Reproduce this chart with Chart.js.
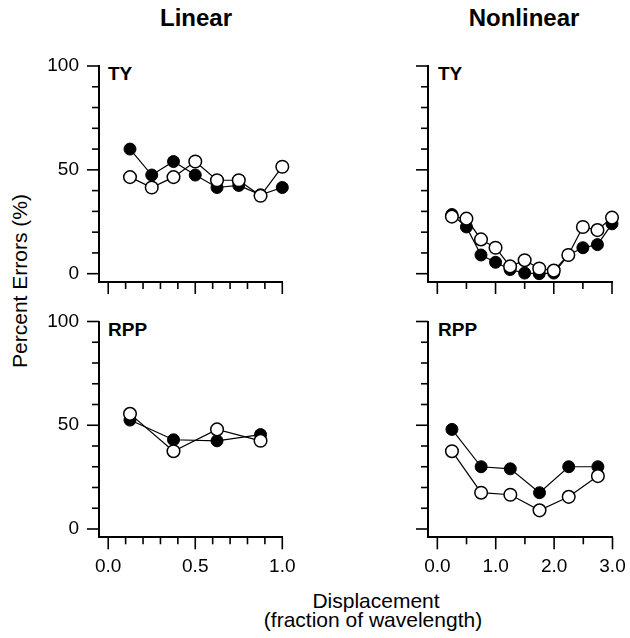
<!DOCTYPE html>
<html>
<head>
<meta charset="utf-8">
<script src="https://cdn.jsdelivr.net/npm/chart.js@4/dist/chart.umd.min.js"></script>
<style>
  body { margin: 0; background: #fff; overflow: hidden; }
  #wrap { position: relative; width: 630px; height: 638px; font-family: "Liberation Sans", Arial, Helvetica, sans-serif; color: #000; }
  canvas { position: absolute; }
  .txt { position: absolute; white-space: nowrap; line-height: 1; }
  .ttl { font-weight: bold; font-size: 24px; transform: translate(-50%, -50%); }
  .lab { font-weight: bold; font-size: 19px; transform: translate(0, -50%); }
  .ax { font-size: 21px; transform: translate(-50%, -50%); }
</style>
</head>
<body>
<div id="wrap">
  <div class="txt ttl" style="left:196px; top:18px;">Linear</div>
  <div class="txt ttl" style="left:524px; top:18px;">Nonlinear</div>
  <div class="txt ax" style="left:19px; top:281px; transform: translate(-50%, -50%) rotate(-90deg);">Percent Errors (%)</div>
  <div class="txt ax" style="left:376px; top:600px;">Displacement</div>
  <div class="txt ax" style="left:373px; top:619px;">(fraction of wavelength)</div>
  <div class="txt lab" style="left:108px; top:73px;">TY</div>
  <div class="txt lab" style="left:438px; top:73px;">TY</div>
  <div class="txt lab" style="left:108px; top:329px;">RPP</div>
  <div class="txt lab" style="left:438px; top:329px;">RPP</div>

  <canvas id="linTy" width="310" height="270" style="left:0px; top:40px;"></canvas>
  <canvas id="nonTy" width="310" height="270" style="left:320px; top:40px;"></canvas>
  <canvas id="linRpp" width="310" height="290" style="left:0px; top:300px;"></canvas>
  <canvas id="nonRpp" width="310" height="290" style="left:320px; top:300px;"></canvas>
</div>
<script>
// --- data ---
const linTyX      = [0.125, 0.25, 0.375, 0.5, 0.625, 0.75, 0.875, 1.0];
const linTyFilled = [60, 47.5, 54, 47.5, 41.5, 42.5, 38, 41.5];
const linTyOpen   = [46.5, 41.5, 46.5, 54, 45, 45, 37.5, 51.5];

const nonTyX      = [0.25, 0.5, 0.75, 1.0, 1.25, 1.5, 1.75, 2.0, 2.25, 2.5, 2.75, 3.0];
const nonTyFilled = [28.5, 22.5, 9, 5.5, 2, 0.3, 0, 0.3, 9, 12.5, 14, 24];
const nonTyOpen   = [27.5, 26.5, 16.5, 12.5, 3.5, 6.5, 2.5, 1.5, 9, 22.5, 21, 27];

const linRppX      = [0.125, 0.375, 0.625, 0.875];
const linRppFilled = [52.5, 43, 42.5, 45.5];
const linRppOpen   = [55.5, 37.5, 48, 42.5];

const nonRppX      = [0.25, 0.75, 1.25, 1.75, 2.25, 2.75];
const nonRppFilled = [48, 30, 29, 17.5, 30, 30];
const nonRppOpen   = [37.5, 17.5, 16.5, 9, 15.5, 25.5];

const yTicks = [0, 10, 20, 30, 40, 50, 60, 70, 80, 90, 100];
const yMajor = [0, 50, 100];
const linXTicks = [0, 0.1, 0.2, 0.3, 0.4, 0.5, 0.6, 0.7, 0.8, 0.9, 1.0];
const linXMajor = [0, 0.5, 1.0];
const nonXTicks = [0, 0.5, 1.0, 1.5, 2.0, 2.5, 3.0];
const nonXMajor = [0, 1.0, 2.0, 3.0];

const FONT = "'Liberation Sans', Arial, Helvetica, sans-serif";

// outward tick marks, long for majors
const tickMarks = {
  id: "tickMarks",
  afterDraw(chart) {
    const ctx = chart.ctx;
    const o = chart.options.plugins.tickMarks;
    ctx.save();
    ctx.strokeStyle = "#000";
    ctx.lineWidth = 1.6;
    const xs = chart.scales.x, ys = chart.scales.y;
    xs.ticks.forEach((t) => {
      const px = xs.getPixelForValue(t.value);
      const len = o.xMajor.some((m) => Math.abs(m - t.value) < 1e-6) ? 12 : 7;
      ctx.beginPath();
      ctx.moveTo(px, xs.top);
      ctx.lineTo(px, xs.top + len);
      ctx.stroke();
    });
    ys.ticks.forEach((t) => {
      const py = ys.getPixelForValue(t.value);
      const len = yMajor.includes(t.value) ? 12 : 7;
      ctx.beginPath();
      ctx.moveTo(ys.right, py);
      ctx.lineTo(ys.right - len, py);
      ctx.stroke();
    });
    ctx.restore();
  },
};

// invisible built-in tick marks: they only push the labels away from the axis
const hiddenGrid = { display: true, drawOnChartArea: false, drawTicks: true, tickLength: 16, tickColor: "rgba(0,0,0,0)" };

function panel(id, xs, filled, open, p) {
  const pts = (arr) => arr.map((v, i) => ({ x: xs[i], y: v }));
  new Chart(document.getElementById(id), {
    type: "line",
    data: {
      datasets: [
        {
          data: pts(filled),
          borderColor: "#000",
          borderWidth: 1.2,
          pointRadius: 6,
          pointBackgroundColor: "#000",
          pointBorderColor: "#000",
          pointBorderWidth: 1,
          clip: false,
          order: 2,
        },
        {
          data: pts(open),
          borderColor: "#000",
          borderWidth: 1.2,
          pointRadius: 6.3,
          pointBackgroundColor: "#fff",
          pointBorderColor: "#000",
          pointBorderWidth: 1.5,
          clip: false,
          order: 1,
        },
      ],
    },
    options: {
      responsive: false,
      animation: false,
      layout: { padding: { left: 0, top: p.top, right: p.right, bottom: 0 } },
      plugins: {
        legend: { display: false },
        tooltip: { enabled: false },
        tickMarks: { xMajor: p.xMajor },
      },
      scales: {
        x: {
          type: "linear",
          min: p.xMin,
          max: p.xMax,
          afterBuildTicks: (s) => { s.ticks = p.xTicks.map((v) => ({ value: v })); },
          afterFit: (s) => { s.height = p.xH; },
          grid: hiddenGrid,
          border: { display: true, color: "#000", width: 2 },
          ticks: {
            display: p.xLabels,
            autoSkip: false,
            maxRotation: 0,
            padding: 2,
            color: "#000",
            font: { size: 19, family: FONT },
            callback: (v) => (p.xMajor.some((m) => Math.abs(m - v) < 1e-6) ? v.toFixed(1) : ""),
          },
        },
        y: {
          min: -4,
          max: 100,
          afterBuildTicks: (s) => { s.ticks = yTicks.map((v) => ({ value: v })); },
          afterFit: (s) => { s.width = p.yW; },
          grid: { ...hiddenGrid, tickLength: 18 },
          border: { display: true, color: "#000", width: 2 },
          ticks: {
            display: p.yLabels,
            autoSkip: false,
            padding: 2,
            color: "#000",
            font: { size: 19, family: FONT },
            callback: (v) => (yMajor.includes(v) ? String(v) : ""),
          },
        },
      },
    },
    plugins: [tickMarks],
  });
}

panel("linTy", linTyX, linTyFilled, linTyOpen,
  { top: 26, right: 27.7, xH: 28, yW: 99, xMin: -0.053, xMax: 1.0, xTicks: linXTicks, xMajor: linXMajor, xLabels: false, yLabels: true });
panel("nonTy", nonTyX, nonTyFilled, nonTyOpen,
  { top: 26, right: 18, xH: 28, yW: 108, xMin: -0.16, xMax: 3.0, xTicks: nonXTicks, xMajor: nonXMajor, xLabels: false, yLabels: false });
panel("linRpp", linRppX, linRppFilled, linRppOpen,
  { top: 21.5, right: 27.7, xH: 52.7, yW: 99, xMin: -0.053, xMax: 1.0, xTicks: linXTicks, xMajor: linXMajor, xLabels: true, yLabels: true });
panel("nonRpp", nonRppX, nonRppFilled, nonRppOpen,
  { top: 21.5, right: 17.5, xH: 52.7, yW: 108, xMin: -0.16, xMax: 3.0, xTicks: nonXTicks, xMajor: nonXMajor, xLabels: true, yLabels: false });
</script>
</body>
</html>
